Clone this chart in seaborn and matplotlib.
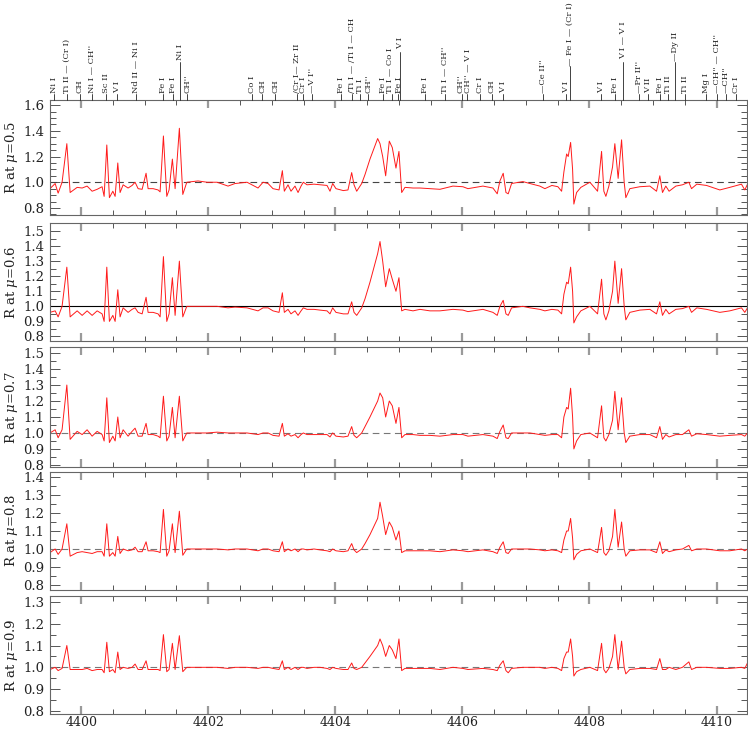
import numpy as np
import pandas as pd
import matplotlib
matplotlib.use("Agg")
import matplotlib.pyplot as plt
import matplotlib.transforms as mtransforms
from matplotlib.lines import Line2D
from matplotlib.ticker import MultipleLocator, FormatStrFormatter
import seaborn as sns

# ---------------- data ----------------
wavelength = [
    4399.51, 4399.591, 4399.638, 4399.70, 4399.775, 4399.827, 4399.937, 4400.016, 4400.094, 4400.173,
    4400.252, 4400.330, 4400.362, 4400.404, 4400.445, 4400.499, 4400.535, 4400.577, 4400.613, 4400.661,
    4400.739, 4400.802, 4400.849, 4400.897, 4400.960, 4401.022, 4401.054, 4401.133, 4401.211, 4401.243,
    4401.295, 4401.348, 4401.384, 4401.436, 4401.479, 4401.546, 4401.600, 4401.663, 4401.840, 4401.982,
    4402.139, 4402.312, 4402.422, 4402.611, 4402.784, 4402.863, 4402.942, 4403.020, 4403.115, 4403.167,
    4403.198, 4403.256, 4403.303, 4403.366, 4403.414, 4403.461, 4403.497, 4403.555, 4403.665, 4403.760,
    4403.870, 4403.917, 4403.959, 4404.011, 4404.126, 4404.200, 4404.258, 4404.295, 4404.337, 4404.416,
    4404.468, 4404.546, 4404.667, 4404.704, 4404.746, 4404.793, 4404.850, 4404.897, 4404.955, 4405.002,
    4405.045, 4405.097, 4405.223, 4405.333, 4405.490, 4405.647, 4405.852, 4406.009, 4406.088, 4406.324,
    4406.481, 4406.549, 4406.591, 4406.643, 4406.686, 4406.722, 4406.775, 4406.953, 4407.063, 4407.220,
    4407.299, 4407.409, 4407.504, 4407.562, 4407.598, 4407.641, 4407.666, 4407.704, 4407.735, 4407.755,
    4407.798, 4407.865, 4408.007, 4408.128, 4408.191, 4408.227, 4408.259, 4408.306, 4408.364, 4408.400,
    4408.452, 4408.506, 4408.547, 4408.573, 4408.636, 4408.793, 4408.951, 4409.056, 4409.108, 4409.150,
    4409.202, 4409.254, 4409.360, 4409.464, 4409.565, 4409.607, 4409.690, 4409.843, 4410.052, 4410.209,
    4410.393, 4410.445, 4410.488,
]

r_mu05 = [
    0.95, 0.99, 0.915, 1.00, 1.30, 0.92, 0.96, 0.955, 0.97, 0.93,
    0.945, 0.965, 0.89, 1.29, 0.88, 0.93, 0.89, 1.15, 0.92, 0.98,
    0.955, 0.975, 1.00, 0.95, 0.945, 1.07, 0.95, 0.95, 0.94, 0.925,
    1.36, 0.89, 0.94, 1.18, 0.95, 1.42, 0.905, 1.00, 1.01, 1.00,
    1.00, 0.97, 0.99, 1.00, 0.955, 1.00, 0.99, 0.95, 0.94, 1.09,
    0.93, 0.98, 0.93, 0.97, 0.92, 0.97, 1.00, 0.98, 0.985, 0.98,
    0.975, 0.93, 0.99, 0.95, 0.935, 0.94, 1.075, 0.98, 0.93, 0.99,
    1.06, 1.18, 1.34, 1.30, 1.20, 1.05, 1.32, 1.27, 1.11, 1.24,
    0.92, 0.96, 0.955, 0.955, 0.95, 0.945, 0.97, 0.965, 0.95, 0.97,
    0.955, 0.91, 1.01, 1.07, 0.92, 0.91, 0.99, 1.005, 0.99, 0.97,
    0.95, 0.975, 0.965, 0.93, 1.08, 1.22, 1.20, 1.31, 1.10, 0.83,
    0.92, 0.96, 1.00, 0.93, 1.24, 0.93, 0.89, 0.97, 1.12, 1.30,
    1.03, 1.33, 1.00, 0.88, 0.95, 0.965, 0.97, 0.93, 1.05, 0.92,
    0.97, 0.93, 0.97, 0.98, 1.00, 0.95, 0.985, 0.975, 0.94, 0.96,
    0.985, 0.94, 0.985,
]

r_mu06 = [
    0.96, 0.97, 0.93, 1.00, 1.26, 0.93, 0.97, 0.94, 0.97, 0.94,
    0.97, 0.95, 0.90, 1.26, 0.90, 0.94, 0.90, 1.11, 0.93, 0.99,
    0.96, 0.98, 0.99, 0.96, 0.95, 1.06, 0.96, 0.96, 0.95, 0.93,
    1.33, 0.90, 0.95, 1.19, 0.94, 1.30, 0.93, 1.00, 1.00, 1.00,
    1.00, 0.99, 0.995, 0.99, 0.97, 0.99, 0.99, 0.97, 0.96, 1.09,
    0.96, 0.98, 0.95, 0.97, 0.94, 0.97, 0.99, 0.98, 0.98, 0.975,
    0.97, 0.95, 0.99, 0.96, 0.95, 0.95, 1.03, 0.96, 0.94, 0.99,
    1.05, 1.16, 1.35, 1.43, 1.30, 1.13, 1.25, 1.18, 1.10, 1.19,
    0.97, 0.98, 0.97, 0.98, 0.97, 0.97, 0.98, 0.975, 0.965, 0.98,
    0.96, 0.94, 1.00, 1.04, 0.95, 0.94, 0.99, 1.00, 0.99, 0.98,
    0.97, 0.98, 0.975, 0.95, 1.08, 1.16, 1.15, 1.26, 1.10, 0.89,
    0.93, 0.97, 1.00, 0.95, 1.18, 0.95, 0.91, 0.97, 1.10, 1.30,
    1.02, 1.25, 1.00, 0.91, 0.96, 0.975, 0.98, 0.95, 1.03, 0.94,
    0.98, 0.95, 0.98, 0.985, 1.00, 0.96, 0.99, 0.98, 0.96, 0.97,
    0.99, 0.96, 0.99,
]

r_mu07 = [
    1.00, 1.02, 0.97, 1.02, 1.30, 0.96, 1.01, 0.99, 1.02, 0.98,
    1.01, 0.99, 0.95, 1.22, 0.94, 0.98, 0.95, 1.10, 0.97, 1.02,
    0.98, 1.01, 1.03, 0.98, 0.98, 1.06, 0.99, 0.99, 0.98, 0.97,
    1.23, 0.95, 0.98, 1.16, 0.97, 1.23, 0.95, 1.00, 1.00, 1.00,
    1.005, 1.00, 1.00, 1.00, 0.99, 1.00, 1.00, 0.985, 0.98, 1.06,
    0.98, 0.995, 0.98, 0.99, 0.97, 0.99, 1.00, 0.99, 0.99, 0.99,
    0.99, 0.975, 1.00, 0.98, 0.975, 0.98, 1.04, 0.985, 0.97, 1.00,
    1.04, 1.10, 1.20, 1.25, 1.22, 1.10, 1.20, 1.17, 1.06, 1.16,
    0.97, 0.99, 0.99, 0.985, 0.985, 0.98, 0.99, 0.99, 0.98, 0.99,
    0.98, 0.965, 1.01, 1.05, 0.97, 0.965, 1.00, 1.00, 1.00, 0.99,
    0.985, 0.99, 0.99, 0.97, 1.10, 1.16, 1.15, 1.28, 1.10, 0.90,
    0.95, 0.99, 1.00, 0.97, 1.17, 0.97, 0.95, 0.99, 1.08, 1.26,
    1.02, 1.22, 1.00, 0.94, 0.98, 0.99, 0.99, 0.97, 1.04, 0.96,
    0.99, 0.975, 0.99, 0.99, 1.02, 0.98, 0.995, 0.99, 0.98, 0.985,
    0.99, 0.98, 1.00,
]

r_mu08 = [
    0.98, 1.00, 0.97, 1.00, 1.14, 0.96, 0.98, 0.985, 0.98, 0.975,
    0.985, 0.985, 0.96, 1.14, 0.96, 0.98, 0.96, 1.07, 0.975, 1.00,
    0.99, 0.995, 1.01, 0.985, 0.985, 1.04, 0.99, 0.99, 0.985, 0.98,
    1.22, 0.96, 0.99, 1.14, 0.98, 1.21, 0.965, 1.00, 1.00, 1.00,
    1.00, 0.995, 1.00, 1.00, 0.99, 1.00, 1.00, 0.99, 0.985, 1.04,
    0.985, 1.00, 0.99, 1.00, 0.985, 1.00, 1.00, 0.995, 1.00, 0.995,
    0.99, 0.985, 1.00, 0.99, 0.985, 0.99, 1.03, 0.995, 0.98, 1.00,
    1.03, 1.08, 1.17, 1.26, 1.18, 1.08, 1.15, 1.12, 1.05, 1.10,
    0.98, 0.99, 0.99, 0.99, 0.99, 0.985, 0.995, 0.99, 0.985, 0.995,
    0.985, 0.975, 1.01, 1.04, 0.98, 0.975, 1.00, 1.00, 1.00, 0.995,
    0.99, 0.995, 0.99, 0.98, 1.05, 1.10, 1.10, 1.17, 1.06, 0.94,
    0.97, 0.99, 1.00, 0.98, 1.12, 0.98, 0.965, 0.99, 1.07, 1.22,
    1.01, 1.15, 1.00, 0.96, 0.99, 0.995, 0.995, 0.98, 1.04, 0.975,
    0.995, 0.985, 0.995, 1.00, 1.02, 0.99, 1.00, 1.00, 0.99, 0.99,
    1.00, 0.99, 1.00,
]

r_mu09 = [
    0.99, 1.00, 0.985, 0.995, 1.10, 0.99, 0.99, 0.99, 0.995, 0.985,
    0.99, 0.99, 0.975, 1.115, 0.98, 0.99, 0.975, 1.07, 0.99, 1.00,
    0.995, 1.00, 1.015, 0.99, 0.99, 1.03, 0.99, 0.99, 0.99, 0.985,
    1.15, 0.98, 0.99, 1.11, 0.99, 1.145, 0.98, 1.00, 1.00, 1.00,
    1.00, 0.995, 1.00, 1.00, 0.995, 1.00, 1.00, 0.995, 0.99, 1.03,
    0.99, 1.00, 0.99, 1.00, 0.99, 1.00, 1.00, 0.995, 1.00, 1.00,
    0.995, 0.99, 1.00, 0.995, 0.99, 0.99, 1.02, 0.995, 0.99, 1.00,
    1.02, 1.05, 1.10, 1.13, 1.10, 1.05, 1.10, 1.08, 1.04, 1.13,
    0.985, 0.995, 0.995, 0.995, 0.995, 0.99, 1.00, 0.995, 0.99, 0.995,
    0.99, 0.985, 1.01, 1.03, 0.985, 0.975, 0.995, 1.00, 1.00, 1.00,
    0.995, 1.00, 0.995, 0.985, 1.04, 1.07, 1.07, 1.13, 1.05, 0.96,
    0.98, 0.99, 1.00, 0.985, 1.11, 0.99, 0.975, 0.995, 1.05, 1.15,
    0.99, 1.12, 1.00, 0.97, 0.99, 0.995, 0.995, 0.99, 1.04, 0.99,
    0.99, 1.00, 0.99, 1.00, 1.025, 0.99, 1.00, 1.00, 0.995, 0.995,
    1.00, 0.995, 1.02,
]

mu_values = [0.5, 0.6, 0.7, 0.8, 0.9]
x_tick_values = [4400, 4402, 4404, 4406, 4408, 4410]

line_id_wave = [
    4399.575, 4399.772, 4399.976, 4400.173, 4400.393, 4400.566, 4400.857, 4401.290, 4401.439, 4401.549,
    4401.667, 4402.690, 4402.847, 4403.052, 4403.390, 4403.497, 4403.635, 4404.090, 4404.263, 4404.389,
    4404.515, 4404.751, 4404.892, 4404.987, 4405.018, 4405.411, 4405.726, 4405.993, 4406.072, 4406.276,
    4406.465, 4406.638, 4407.268, 4407.630, 4407.693, 4408.180, 4408.400, 4408.526, 4408.778, 4408.919,
    4409.108, 4409.234, 4409.344, 4409.502, 4409.832, 4410.005, 4410.146, 4410.304,
]
line_id_text = [
    "Ni I", "Ti II — (Cr I)", "CH", "Ni I — CH''", "Sc II", "V I", "Nd II — Ni I", "Fe I", "Fe I", "Ni I",
    "CH''", "Co I", "CH", "CH", "/Cr I— Zr II", "Cr I", "—V I''", "Fe I", "/Ti I — /Ti I — CH", "Ti I",
    "CH''", "Fe I", "Ti I — Co I", "Fe I", "V I", "Fe I", "Ti I — CH''", "CH''", "CH'' — V I", "Cr I",
    "CH", "V I", "—Ce II''", "V I", "— Fe I — (Cr I)", "V I", "Fe I", "V I — V I", "—Pr II''", "V II",
    "Fe I", "Ti II", "—Dy II", "Ti II", "Mg I", "—CH'' — CH''", "—CH''", "Cr I",
]

# ---------------- layout / style ----------------
W, H = 748, 730
panel_px = [(100, 215), (223, 341), (347, 467), (472, 590), (596, 714)]
ax_left_px, ax_right_px = 50, 747
ylims = [(0.745, 1.64), (0.77, 1.553), (0.787, 1.538), (0.772, 1.428), (0.786, 1.327)]
ymajor = [0.2, 0.1, 0.1, 0.1, 0.1]
xlim = (4399.51, 4410.48)
ref_styles = [dict(color="#444444", ls=(0, (6, 4))), dict(color="black", ls="-"),
              dict(color="#777777", ls=(0, (6, 4))), dict(color="#777777", ls=(0, (6, 4))),
              dict(color="#777777", ls=(0, (6, 4)))]
# raised labels: index -> (line top px, text bottom px)
raised = {9: (62, 60), 24: (52, 49), 34: (66, 66), 37: (62, 59), 42: (62, 61)}
# small horizontal nudges (px) to reduce label overlap
nudge = {22: -1.5, 23: 1.0, 27: -1.5, 28: 1.5}

sns.set_theme(style="ticks")
plt.rcParams["font.family"] = ["DejaVu Serif"]
plt.rcParams["mathtext.fontset"] = "dejavuserif"

series = [r_mu05, r_mu06, r_mu07, r_mu08, r_mu09]
df = pd.concat([
    pd.DataFrame({"wavelength": wavelength, "R": vals, "mu": mu})
    for vals, mu in zip(series, mu_values)
], ignore_index=True)

fig = plt.figure(figsize=(W / 100, H / 100), dpi=100)
axes = []
for i, (top, bot) in enumerate(panel_px):
    ax = fig.add_axes([ax_left_px / W, 1 - bot / H, (ax_right_px - ax_left_px) / W, (bot - top) / H])
    axes.append(ax)
    sub = df[df["mu"] == mu_values[i]]
    ax.axhline(1.0, lw=0.8, zorder=1, **ref_styles[i])
    sns.lineplot(data=sub, x="wavelength", y="R", ax=ax, color="#ff1a1a", lw=0.7,
                 estimator=None, sort=False, legend=False, zorder=2)
    ax.set_xlim(*xlim)
    ax.set_ylim(*ylims[i])
    ax.xaxis.set_major_locator(MultipleLocator(2))
    ax.xaxis.set_minor_locator(MultipleLocator(0.5))
    ax.yaxis.set_major_locator(MultipleLocator(ymajor[i]))
    ax.yaxis.set_minor_locator(MultipleLocator(0.05))
    ax.yaxis.set_major_formatter(FormatStrFormatter("%.1f"))
    ax.tick_params(axis="both", which="both", direction="in", top=True, right=True,
                   labelsize=9.5, labelcolor="#222222")
    ax.tick_params(axis="x", which="major", length=6, width=1.6, color="#9a9a9a", pad=1.5,
                   labelsize=9)
    ax.tick_params(axis="x", which="minor", length=3.5, width=0.7, color="#555555")
    ax.tick_params(axis="y", which="major", length=7, width=0.7, color="#555555", pad=4)
    ax.tick_params(axis="y", which="minor", length=4, width=0.7, color="#555555")
    for s in ax.spines.values():
        s.set_color("#666666")
        s.set_linewidth(0.8)
    ax.set_ylabel(rf"R at $\mu$={mu_values[i]}", fontsize=9.5, color="#222222")
    ax.yaxis.set_label_coords(-0.043, 0.5)
    ax.set_xlabel("")
    if i < 4:
        ax.tick_params(axis="x", labelbottom=False)
    else:
        ax.set_xticks(x_tick_values)
        ax.set_xticklabels([str(v) for v in x_tick_values])

# line identifications above the top panel
ax0 = axes[0]
trans = mtransforms.blended_transform_factory(ax0.transData, fig.transFigure)
axis_top = panel_px[0][0]
for k, (wv, txt) in enumerate(zip(line_id_wave, line_id_text)):
    line_top, text_bot = raised.get(k, (94, 93))
    fig.add_artist(Line2D([wv, wv], [1 - axis_top / H, 1 - line_top / H], transform=trans,
                          color="#222222", lw=0.6, clip_on=False))
    off = mtransforms.offset_copy(trans, fig=fig, x=nudge.get(k, 0.0), units="dots")
    fig.text(wv, 1 - text_bot / H, txt, transform=off, rotation=90, ha="center", va="bottom",
             fontsize=6, color="#222222")

fig.savefig("out.png", dpi=100)
